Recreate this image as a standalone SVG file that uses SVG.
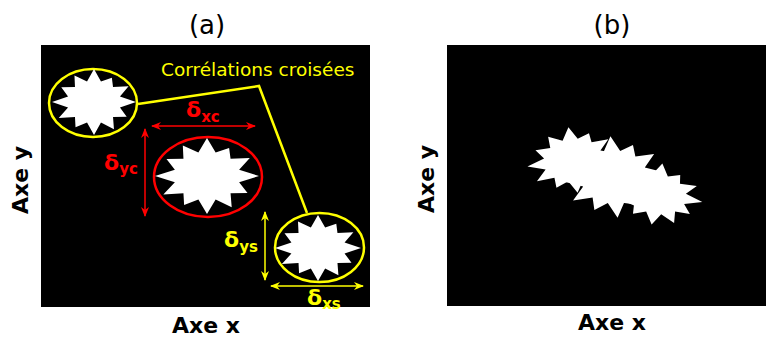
<svg xmlns="http://www.w3.org/2000/svg" xmlns:xlink="http://www.w3.org/1999/xlink" width="766" height="338" viewBox="0 0 766 338">
<style>
.title{font-family:"DejaVu Sans",sans-serif;font-size:26px;fill:#000;text-anchor:middle}
.axis{font-family:"DejaVu Sans",sans-serif;font-size:22px;font-weight:bold;fill:#000;text-anchor:middle}
.panel{fill:#000}
.star{fill:#fff}
.yel{fill:none;stroke:#ffff00;stroke-width:2.5}
.red{fill:none;stroke:#ff0000;stroke-width:2.5}
.arrY{fill:none;stroke:#ffff00;stroke-width:1.5;marker-start:url(#hy);marker-end:url(#hy)}
.arrR{fill:none;stroke:#ff0000;stroke-width:1.5;marker-start:url(#hr);marker-end:url(#hr)}
.dl{font-family:"DejaVu Sans",sans-serif;font-weight:bold;font-size:22px}
.sub{font-size:15px}
.lab{font-family:"DejaVu Sans",sans-serif;font-size:18.5px;fill:#ffff00}
</style>
<defs>
<polygon id="star" points="0,-1 0.166,-0.618 0.425,-0.736 0.453,-0.453 0.823,-0.475 0.618,-0.166 1,0 0.618,0.166 0.779,0.45 0.453,0.453 0.475,0.823 0.166,0.618 0,1 -0.166,0.618 -0.44,0.762 -0.453,0.453 -0.84,0.485 -0.618,0.166 -1,0 -0.618,-0.166 -0.779,-0.45 -0.453,-0.453 -0.465,-0.805 -0.166,-0.618"/>
<marker id="hy" viewBox="0 0 10 8" refX="9" refY="4" markerWidth="10" markerHeight="8" markerUnits="userSpaceOnUse" orient="auto-start-reverse"><path d="M0,0 L10,4 L0,8 L3,4 z" fill="#ffff00"/></marker>
<marker id="hr" viewBox="0 0 10 8" refX="9" refY="4" markerWidth="10" markerHeight="8" markerUnits="userSpaceOnUse" orient="auto-start-reverse"><path d="M0,0 L10,4 L0,8 L3,4 z" fill="#ff0000"/></marker>
</defs>
<text class="title" x="207" y="34">(a)</text>
<text class="title" x="612" y="34">(b)</text>
<g id="panel-a">
<rect class="panel" x="41" y="45" width="329" height="262"/>
</g>
<g id="panel-b">
<rect class="panel" x="447" y="45" width="319" height="261"/>
</g>
<text class="axis" transform="translate(28,180) rotate(-90)">Axe y</text>
<text class="axis" transform="translate(434,179) rotate(-90)">Axe y</text>
<text class="axis" x="206" y="333">Axe x</text>
<text class="axis" x="612" y="330">Axe x</text>
<g id="connectors">
<polyline class="yel" stroke-width="2" points="138,104 259,86 307,213"/>
<line class="arrR" x1="152" y1="126" x2="255" y2="126"/>
<line class="arrR" x1="145" y1="129" x2="145" y2="216"/>
<line class="arrY" x1="265" y1="212" x2="265" y2="280"/>
<line class="arrY" x1="271" y1="286" x2="363" y2="286"/>
</g>
<g id="star-tl">
<ellipse class="yel" cx="93" cy="103" rx="44" ry="34"/>
<use xlink:href="#star" class="star" transform="translate(94,102) scale(42,33)"/>
</g>
<g id="star-center">
<ellipse class="red" cx="208" cy="177" rx="54" ry="40"/>
<use xlink:href="#star" class="star" transform="translate(207,176) scale(52,38)"/>
</g>
<g id="star-br">
<ellipse class="yel" cx="319.5" cy="247.5" rx="44.5" ry="34.5"/>
<use xlink:href="#star" class="star" transform="translate(318,248) scale(43,33)"/>
</g>
<g id="label-corr"><text class="lab" x="161" y="76">Corrélations croisées</text></g>
<g id="label-dxc"><text class="dl" fill="#ff0000" x="186" y="117">δ<tspan class="sub" dy="5">xc</tspan></text></g>
<g id="label-dyc"><text class="dl" fill="#ff0000" x="104" y="170">δ<tspan class="sub" dy="4">yc</tspan></text></g>
<g id="label-dys"><text class="dl" fill="#ffff00" x="224" y="247">δ<tspan class="sub" dy="5">ys</tspan></text></g>
<g id="label-dxs"><text class="dl" fill="#ffff00" x="307" y="305">δ<tspan class="sub" dy="4">xs</tspan></text></g>
<g id="stars-b">
<use xlink:href="#star" class="star" transform="translate(573,160) rotate(-8) scale(46,33)"/>
<use xlink:href="#star" class="star" transform="translate(614,177) rotate(-5) scale(51,41)"/>
<use xlink:href="#star" class="star" transform="translate(657,194) rotate(10) scale(46,31)"/>
</g>
</svg>
